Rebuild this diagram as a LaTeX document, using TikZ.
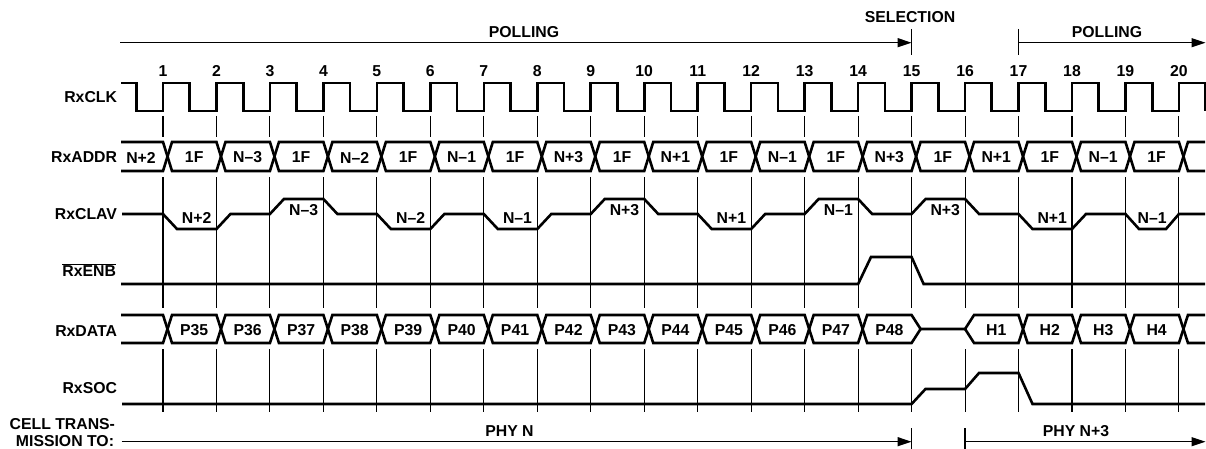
\documentclass[tikz,border=0pt]{standalone}
\usepackage{fontspec}
\setmainfont{Liberation Sans}
\usetikzlibrary{arrows.meta}
\begin{document}
\begin{tikzpicture}[x=1pt,y=-1pt,
  lbl/.style={font=\fontsize{15.8}{18}\selectfont\bfseries, inner sep=0pt, outer sep=0pt},
  sig/.style={line width=2.6pt, line join=miter},
  tick/.style={line width=1.1pt},
  arr/.style={line width=1.3pt, -{Triangle[length=14pt,width=9pt]}},
  bar/.style={line width=1.3pt}]
\useasboundingbox (0,0) rectangle (1206,449);

% ---------- signal names ----------
\node[lbl, anchor=east] (lclk)  at (117,97.5) {RxCLK};
\node[lbl, anchor=east] (laddr) at (117,157.5) {RxADDR};
\node[lbl, anchor=east] (lclav) at (117,214) {RxCLAV};
\node[lbl, anchor=base east] (lenb) at (116,276.4) {$\overline{\mbox{RxENB}}$};
\node[lbl, anchor=east] (ldata) at (117,331) {RxDATA};
\node[lbl, anchor=east] (lsoc)  at (117,388.5) {RxSOC};
\node[lbl, anchor=east] (lcell) at (115,424) {CELL TRANS-};
\node[lbl, anchor=east] (lmiss) at (114,441) {MISSION TO:};

% ---------- phase arrows ----------
\node[lbl] (poll1) at (524,31.7) {POLLING};
\node[lbl] (sel)   at (910,17.5) {SELECTION};
\node[lbl] (poll2) at (1107,31.7) {POLLING};
\coordinate (pa) at (120,42.7);
\coordinate (pb) at (911.58,42.7);
\coordinate (pbt) at (911.58,29);
\coordinate (pbb) at (911.58,55);
\coordinate (pc) at (1018.52,42.7);
\coordinate (pct) at (1018.52,29);
\coordinate (pcb) at (1018.52,55);
\coordinate (pd) at (1205.5,42.7);
\draw[arr] (pa) -- (pb);
\draw[bar] (pbt) -- (pbb);
\draw[bar] (pct) -- (pcb);
\draw[arr] (pc) -- (pd);

% ---------- cycle numbers and ticks ----------
\foreach \i [evaluate=\i as \x using {163+(\i-1)*53.47}] in {1,...,20} {
  \node[lbl] (n\i) at (\x,71) {\i};
  \draw[tick] (\x,116) -- (\x,137);
  \draw[tick] (\x,177) -- (\x,308);
  \draw[tick] (\x,349) -- (\x,412);
}

% ---------- RxCLK ----------
\draw[sig] (121,83) -- (136.3,83) -- (136.3,111)
  \foreach \i [evaluate=\i as \x using {163+(\i-1)*53.47}] in {1,...,20}
  { -- (\x,111) -- (\x,83) -- (\x+26.73,83) -- (\x+26.73,111) };

% ---------- RxADDR ----------
\draw[sig] (121,142)
  \foreach \i [evaluate=\i as \x using {163+(\i-1)*53.47},
               evaluate=\i as \ya using {isodd(\i) ? 142 : 171},
               evaluate=\i as \yb using {isodd(\i) ? 171 : 142}] in {1,...,20}
  { -- (\x,\ya) -- (\x+9,\yb) } -- (1205,142);
\draw[sig] (121,171)
  \foreach \i [evaluate=\i as \x using {163+(\i-1)*53.47},
               evaluate=\i as \ya using {isodd(\i) ? 171 : 142},
               evaluate=\i as \yb using {isodd(\i) ? 142 : 171}] in {1,...,20}
  { -- (\x,\ya) -- (\x+9,\yb) } -- (1205,171);
\node[lbl] (a0) at (141,157.5) {N+2};
\foreach \k/\t in {1/1F,2/N–3,3/1F,4/N–2,5/1F,6/N–1,7/1F,8/N+3,9/1F,10/N+1,
                   11/1F,12/N–1,13/1F,14/N+3,15/1F,16/N+1,17/1F,18/N–1,19/1F}
  \node[lbl] (a\k) at ({163+(\k-1)*53.47+31.2},157.5) {\t};

% ---------- RxCLAV ----------
\draw[sig] (122,214)
  \foreach \i/\a/\b [evaluate=\i as \x using {163+(\i-1)*53.47}] in
   {1/214/229, 2/229/214, 3/214/199, 4/199/214, 5/214/229, 6/229/214,
    7/214/229, 8/229/214, 9/214/199, 10/199/214, 11/214/229, 12/229/214,
    13/214/199, 14/199/214, 15/214/199, 16/199/214, 17/214/229, 18/229/214}
  { -- (\x,\a) -- (\x+14,\b) }
  -- (1125.46,214) -- (1139,229) -- (1166,229) -- (1178.93,214) -- (1205,214);
\foreach \k/\t/\yy in {1/N+2/218, 3/N–3/210, 5/N–2/218, 7/N–1/218, 9/N+3/210,
                       11/N+1/218, 13/N–1/210, 15/N+3/210, 17/N+1/218}
  \node[lbl] (c\k) at ({163+(\k-1)*53.47+33.7},\yy) {\t};
\node[lbl] (c19) at (1152.2,218) {N–1};

% ---------- RxENB ----------
\draw[sig] (121,284) -- (858.11,284) -- (871,257) -- (911.58,257) -- (923.6,284) -- (1205,284);

% ---------- RxDATA ----------
\draw[sig] (121,315)
  \foreach \i [evaluate=\i as \x using {163+(\i-1)*53.47},
               evaluate=\i as \ya using {isodd(\i) ? 315 : 343},
               evaluate=\i as \yb using {isodd(\i) ? 343 : 315}] in {1,...,14}
  { -- (\x,\ya) -- (\x+9,\yb) }
  -- (911.58,315) -- (920.6,329) -- (965.05,329) -- (974.05,315)
  \foreach \i [evaluate=\i as \x using {163+(\i-1)*53.47},
               evaluate=\i as \ya using {isodd(\i) ? 315 : 343},
               evaluate=\i as \yb using {isodd(\i) ? 343 : 315}] in {17,...,20}
  { -- (\x,\ya) -- (\x+9,\yb) } -- (1205,315);
\draw[sig] (121,343)
  \foreach \i [evaluate=\i as \x using {163+(\i-1)*53.47},
               evaluate=\i as \ya using {isodd(\i) ? 343 : 315},
               evaluate=\i as \yb using {isodd(\i) ? 315 : 343}] in {1,...,14}
  { -- (\x,\ya) -- (\x+9,\yb) }
  -- (911.58,343) -- (920.6,329)
  (965.05,329) -- (974.05,343)
  \foreach \i [evaluate=\i as \x using {163+(\i-1)*53.47},
               evaluate=\i as \ya using {isodd(\i) ? 343 : 315},
               evaluate=\i as \yb using {isodd(\i) ? 315 : 343}] in {17,...,20}
  { -- (\x,\ya) -- (\x+9,\yb) } -- (1205,343);
\foreach \k/\t in {1/P35,2/P36,3/P37,4/P38,5/P39,6/P40,7/P41,8/P42,9/P43,10/P44,
                   11/P45,12/P46,13/P47,14/P48,16/H1,17/H2,18/H3,19/H4}
  \node[lbl] (d\k) at ({163+(\k-1)*53.47+31.2},330) {\t};

% ---------- RxSOC ----------
\draw[sig] (122,404) -- (911.58,404) -- (925.5,389) -- (965.05,389) -- (979,373)
  -- (1018.52,373) -- (1032.5,404) -- (1205,404);

% ---------- cell transmission ----------
\node[lbl] (phyn)  at (509.5,431) {PHY N};
\node[lbl] (phyn3) at (1076,431) {PHY N+3};
\coordinate (ta) at (121.7,441.7);
\coordinate (tb) at (911.58,441.7);
\coordinate (tbt) at (911.58,428);
\coordinate (tbb) at (911.58,449);
\coordinate (tc) at (965.05,441.7);
\coordinate (tct) at (965.05,428);
\coordinate (tcb) at (965.05,449);
\coordinate (td) at (1205.5,441.7);
\draw[arr] (ta) -- (tb);
\draw[bar] (tbt) -- (tbb);
\draw[bar] (tct) -- (tcb);
\draw[arr] (tc) -- (td);
\end{tikzpicture}
\end{document}
